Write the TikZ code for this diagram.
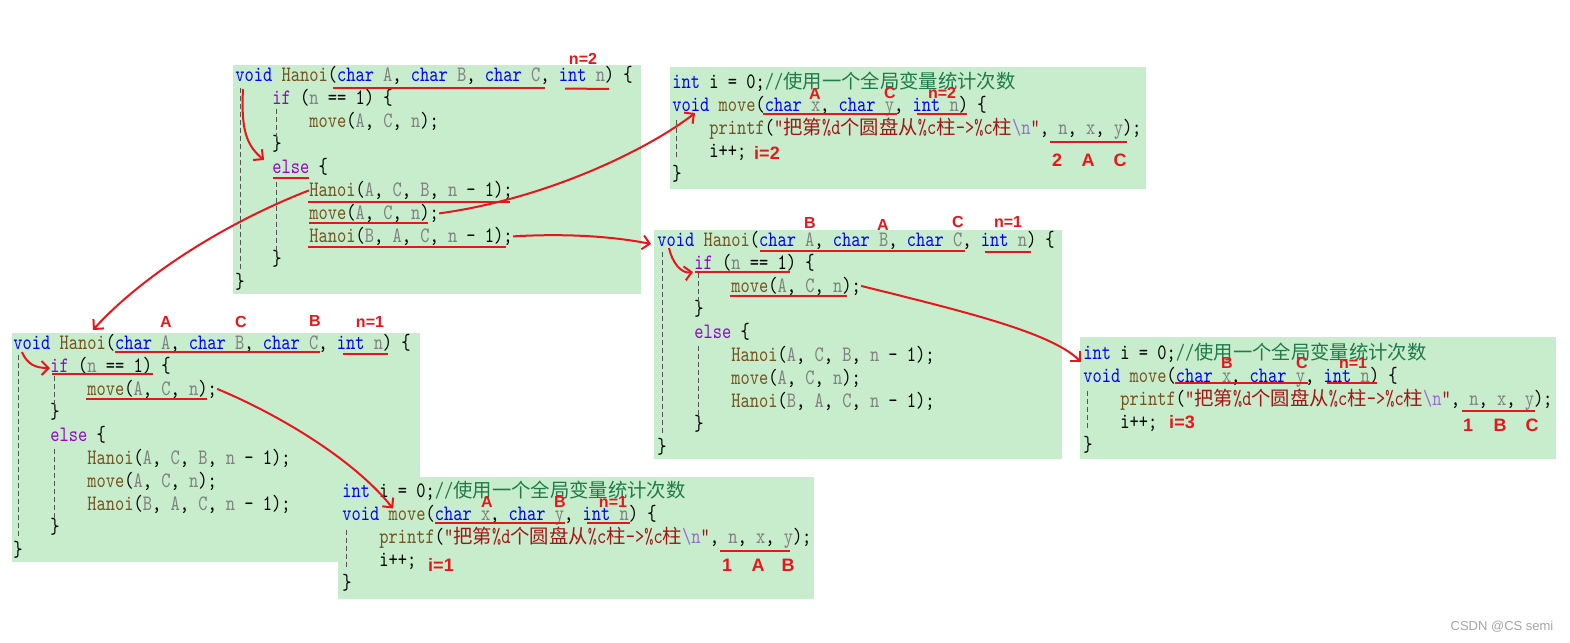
\documentclass[tikz,border=0pt]{standalone}
\usepackage{fontspec}
\usepackage{tikz}
\usetikzlibrary{arrows.meta,calc}

\newfontfamily\codefont[FakeStretch=0.8]{lmmono10-regular.otf}
\newfontfamily\cjk[Scale=0.88]{Noto Sans CJK SC}
\newfontfamily\labfont{Liberation Sans}

\definecolor{panelgreen}{HTML}{C7EDCC}
\definecolor{kwblue}{HTML}{0000FF}
\definecolor{ctlpurple}{HTML}{8F08C4}
\definecolor{fnbrown}{HTML}{74531F}
\definecolor{pargray}{HTML}{808080}
\definecolor{strred}{HTML}{A31515}
\definecolor{escpurple}{HTML}{9B6BD8}
\definecolor{cmtgreen}{HTML}{1F7A4D}
\definecolor{redink}{HTML}{E8161B}
\definecolor{guidegray}{HTML}{555555}

\newcommand\kw[1]{\textcolor{kwblue}{#1}}
\newcommand\ctl[1]{\textcolor{ctlpurple}{#1}}
\newcommand\fn[1]{\textcolor{fnbrown}{#1}}
\newcommand\pa[1]{\textcolor{pargray}{#1}}
\newcommand\lit[1]{\textcolor{strred}{#1}}
\newcommand\cmt[1]{\textcolor{cmtgreen}{#1}}

\tikzset{
    panel/.style={fill=panelgreen, inner sep=0pt, anchor=north west},
    hanoibox/.style={panel, minimum width=204pt, minimum height=114.5pt},
    movebox/.style={panel, minimum width=238pt, minimum height=61pt},
    code/.style={anchor=base west, inner sep=0pt, font=\codefont\fontsize{11}{13}\selectfont},
    guide/.style={draw=guidegray, line width=0.5pt, dash pattern=on 2.5pt off 1.5pt},
    redline/.style={draw=redink, line width=1pt},
    callarrow/.style={redline, -{Straight Barb[length=3.5pt,width=7pt]}},
    tag/.style={text=redink, inner sep=0pt, font=\labfont\bfseries\fontsize{8}{8}\selectfont},
    val/.style={tag, font=\labfont\bfseries\fontsize{9}{9}\selectfont}
}

\newcommand{\hanoilines}{%
    \node[code] (l1) at (0,0) {\kw{void} \fn{Hanoi}(\kw{char} \pa{A}, \kw{char} \pa{B}, \kw{char} \pa{C}, \kw{int} \pa{n}) \{};
    \node[code] (l2) at (37,23) {\ctl{if} (\pa{n} == 1) \{};
    \node[code] (l3) at (74,46) {\fn{move}(\pa{A}, \pa{C}, \pa{n});};
    \node[code] (l4) at (37,69) {\}};
    \node[code] (l5) at (37,92) {\ctl{else} \{};
    \node[code] (l6) at (74,115) {\fn{Hanoi}(\pa{A}, \pa{C}, \pa{B}, \pa{n} - 1);};
    \node[code] (l7) at (74,138) {\fn{move}(\pa{A}, \pa{C}, \pa{n});};
    \node[code] (l8) at (74,161) {\fn{Hanoi}(\pa{B}, \pa{A}, \pa{C}, \pa{n} - 1);};
    \node[code] (l9) at (37,184) {\}};
    \node[code] (l10) at (0,207) {\}};
    \draw[guide] (5,6) -- (5,190);
    \draw[guide] (41.5,27) -- (41.5,57);
    \draw[guide] (41.5,100) -- (41.5,172);
}

\newcommand{\movelines}{%
    \node[code] (l1) at (0,0) {\kw{int} i = 0;\cmt{//{\cjk 使用一个全局变量统计次数}}};
    \node[code] (l2) at (0,23) {\kw{void} \fn{move}(\kw{char} \pa{x}, \kw{char} \pa{y}, \kw{int} \pa{n}) \{};
    \node[code] (l3) at (37,46) {\fn{printf}(\lit{”{\cjk 把第}\%d{\cjk 个圆盘从}\%c{\cjk 柱}->\%c{\cjk 柱}}\textcolor{escpurple}{\textbackslash n}\lit{”}, \pa{n}, \pa{x}, \pa{y});};
    \node[code] (l4) at (37,69) {i++;};
    \node[code] (l5) at (0,92) {\}};
    \draw[guide] (4,32) -- (4,72);
}

\begin{document}
\begin{tikzpicture}[x=0.5pt, y=-0.5pt]
    \useasboundingbox (0,0) rectangle (1570,643);
    \fill[white] (0,0) rectangle (1570,643);

    \node[hanoibox] (b1) at (233,65) {};
    \node[movebox] (b2) at (670,67) {};
    \node[hanoibox] (b3) at (654,230) {};
    \node[movebox] (b4) at (1080,337) {};
    \node[hanoibox] (b5) at (12,333) {};
    \node[movebox] (b6) at (338,477) {};

    \begin{scope}[shift={(235,81.5)}, name prefix=h1-]
        \hanoilines
        \node[tag] (vn) at (348,-22.5) {n=2};
        \draw[redline] (98,6) -- (310,6);
        \draw[redline] (330,7) -- (374,7.5);
        \draw[redline] (38,96) -- (74,96);
        \draw[redline] (73,120.5) -- (275,120.5);
        \draw[redline] (74,141) -- (193,141);
        \draw[redline] (73,165.5) -- (271,165.5);
        \draw[callarrow] ($(l1.base west)+(8,7.5)$) .. controls +(-2,40) and +(-18,-15) .. ($(l5.base west)+(-8,-13.5)$);
    \end{scope}

    \begin{scope}[shift={(672,88)}, name prefix=m1-]
        \movelines
        \node[tag] (vx) at (143,6) {A};
        \node[tag] (vy) at (218,5) {C};
        \node[tag] (vn) at (270,5) {n=2};
        \draw[redline] (91,26) -- (225,26);
        \draw[redline] (245,25.5) -- (295,25.5);
        \draw[redline] (378,54) -- (455,54);
        \node[val] (on) at (385,72) {2};
        \node[val] (ox) at (416,72) {A};
        \node[val] (oy) at (448,72) {C};
        \node[val] (cnt) at (95,65) {i=2};
    \end{scope}

    \begin{scope}[shift={(657,246)}, name prefix=h2-]
        \hanoilines
        \node[tag] (va) at (153,-23) {B};
        \node[tag] (vb) at (226,-21) {A};
        \node[tag] (vc) at (301,-24) {C};
        \node[tag] (vn) at (351,-24) {n=1};
        \draw[redline] (103,5) -- (308,5);
        \draw[redline] (328,6) -- (374,6);
        \draw[redline] (38,26) -- (133,26);
        \draw[redline] (73,50) -- (190,50);
        \draw[callarrow] ($(l1.base west)+(12,2)$) .. controls +(3,14) and +(-12,2) .. ($(l2.base west)+(-1,3)$);
    \end{scope}

    \begin{scope}[shift={(1083,359)}, name prefix=m2-]
        \movelines
        \node[tag] (vx) at (144,4) {B};
        \node[tag] (vy) at (219,4) {C};
        \node[tag] (vn) at (270,4) {n=1};
        \draw[redline] (92,24) -- (225,24);
        \draw[redline] (244,24) -- (294,24);
        \draw[redline] (379,52) -- (452,52);
        \node[val] (on) at (385,66) {1};
        \node[val] (ox) at (417,66) {B};
        \node[val] (oy) at (449,66) {C};
        \node[val] (cnt) at (99,63) {i=3};
    \end{scope}

    \begin{scope}[shift={(13,349)}, name prefix=h3-]
        \hanoilines
        \node[tag] (va) at (153,-27) {A};
        \node[tag] (vb) at (228,-27) {C};
        \node[tag] (vc) at (302,-28) {B};
        \node[tag] (vn) at (357,-27) {n=1};
        \draw[redline] (102,3) -- (307,3);
        \draw[redline] (330,5) -- (375,5);
        \draw[redline] (39,25) -- (140,25);
        \draw[redline] (73,50) -- (194,50);
        \draw[callarrow] ($(l1.base west)+(9,3)$) .. controls +(5,12) and +(-15,0) .. ($(l2.base west)+(0,-4)$);
    \end{scope}

    \begin{scope}[shift={(342,497.5)}, name prefix=m3-]
        \movelines
        \node[tag] (vx) at (145,4.5) {A};
        \node[tag] (vy) at (218,4.5) {B};
        \node[tag] (vn) at (271,4.5) {n=1};
        \draw[redline] (93,25.5) -- (223,25.5);
        \draw[redline] (245,25.5) -- (288,25.5);
        \draw[redline] (378,53.5) -- (448,53.5);
        \node[val] (on) at (385,67.5) {1};
        \node[val] (ox) at (416,67.5) {A};
        \node[val] (oy) at (446,67.5) {B};
        \node[val] (cnt) at (99,67.5) {i=1};
    \end{scope}

    \draw[callarrow] (h1-l6.west) .. controls +(-90,35) and +(45,-50) .. ($(b5.north west)+(81,-3)$);
    \draw[callarrow] (h1-l7.east) .. controls +(110,-15) and +(-45,35) .. ($(m1-l2.base west)+(23,2)$);
    \draw[callarrow] (h1-l8.east) .. controls +(50,-3) and +(-40,-8) .. ($(h2-l1.base west)+(-6,-2)$);
    \draw[callarrow] (h2-l3.east) .. controls +(100,25) and +(-30,-30) .. ($(m2-l2.base west)+(-2,-20)$);
    \draw[callarrow] (h3-l3.east) .. controls +(60,25) and +(-40,-50) .. ($(m3-l2.base west)+(51,-12)$);

    \node[text=gray!70, inner sep=0pt, font=\labfont\fontsize{6.5}{7}\selectfont] (wm) at (1502,627) {CSDN @CS semi};
\end{tikzpicture}
\end{document}
